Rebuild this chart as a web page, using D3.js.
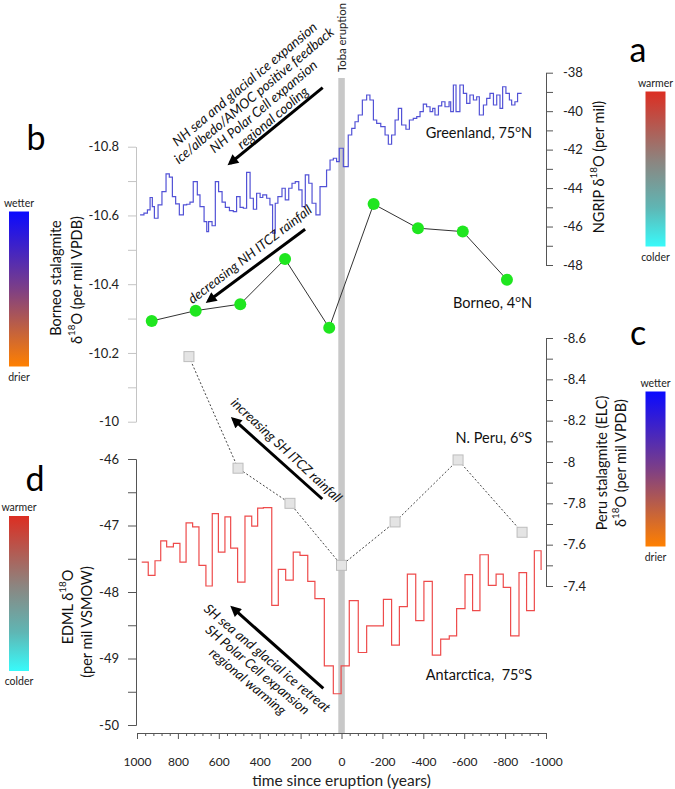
<!DOCTYPE html>
<html><head><meta charset="utf-8">
<script src="https://cdn.jsdelivr.net/npm/d3@7"></script>
<style>
body{margin:0;background:#fff;}
svg{display:block;font-family:Lato,"Open Sans",sans-serif;}
</style></head><body>
<svg id="c" width="675" height="789"></svg>
<script>
// ---------- tick labels ----------
const xTicks = [1000,800,600,400,200,0,-200,-400,-600,-800,-1000];
const borneoTicks = [-10.8,-10.6,-10.4,-10.2,-10];
const ngripTicks = [-38,-40,-42,-44,-46,-48];
const peruTicks = [-8.6,-8.4,-8.2,-8,-7.8,-7.6,-7.4];
const edmlTicks = [-46,-47,-48,-49,-50];

// ---------- Greenland NGRIP d18O (step series: start year, value) ----------
const greenlandYears = [985,966,949,936,925,915,897,878,858,842,827,811,793,773,757,741,725,705,692,672,659,650,633,617,601,584,568,548,529,513,496,480,464,447,431,415,398,385,366,350,337,324,311,291,275,258,242,226,209,193,177,160,144,125,105,73,56,40,24,11,-9,-33,-50,-66,-82,-102,-123,-139,-156,-172,-192,-213,-229,-245,-262,-278,-294,-315,-332,-351,-368,-384,-400,-416,-433,-446,-457,-474,-490,-506,-526,-534,-547,-560,-579,-596,-612,-628,-645,-661,-674,-694,-710,-726,-743,-759,-775,-788,-804,-821,-832,-848,-861,-881];
const greenlandValues = [-45.39,-45.30,-45.13,-44.49,-44.96,-45.57,-44.87,-44.18,-43.26,-43.43,-44.44,-44.82,-45.39,-44.87,-44.84,-44.73,-43.66,-44.35,-44.96,-45.74,-46.26,-45.74,-45.96,-43.66,-44.18,-44.73,-45.00,-45.17,-45.22,-44.44,-45.00,-45.05,-43.18,-44.53,-45.10,-44.27,-44.49,-44.35,-44.53,-44.87,-46.34,-44.79,-44.44,-44.01,-44.61,-44.01,-43.75,-43.66,-44.09,-44.96,-43.31,-43.75,-44.79,-45.39,-43.92,-43.06,-42.54,-42.45,-42.62,-41.93,-42.88,-41.24,-40.89,-40.55,-40.20,-39.42,-39.16,-39.42,-40.46,-40.63,-40.80,-41.24,-41.72,-41.24,-40.46,-39.85,-40.72,-40.94,-40.46,-40.37,-40.28,-40.02,-39.63,-39.77,-40.02,-39.85,-40.20,-39.73,-39.51,-39.77,-39.51,-40.02,-38.64,-40.02,-38.64,-39.07,-39.59,-39.16,-39.42,-39.25,-40.20,-39.68,-39.33,-39.07,-39.68,-39.16,-39.85,-38.73,-39.07,-39.42,-39.68,-39.51,-39.07,-39.07];

// ---------- Borneo stalagmite d18O ----------
const borneoYears = [928,713,495,276,60,-157,-374,-593,-809];
const borneoValues = [-10.293,-10.323,-10.342,-10.473,-10.273,-10.633,-10.563,-10.553,-10.413];

// ---------- Peru stalagmite (ELC) d18O ----------
const peruYears = [746,506,252,0,-262,-570,-883];
const peruValues = [-8.51,-7.97,-7.80,-7.50,-7.71,-8.01,-7.66];

// ---------- Antarctica EDML d18O (step series) ----------
const antarcticaYears = [977,945,912,884,855,822,790,760,728,697,663,632,602,570,542,508,472,439,410,382,341,309,273,236,203,165,130,84,40,2,-38,-82,-123,-205,-245,-283,-322,-363,-403,-444,-485,-527,-563,-604,-641,-677,-718,-756,-791,-827,-868,-905,-943,-976];
const antarcticaValues = [-47.55,-47.75,-47.53,-47.23,-47.32,-47.27,-47.55,-46.96,-47.02,-47.60,-47.91,-46.82,-47.40,-46.87,-47.34,-47.85,-46.86,-47.01,-46.74,-46.73,-48.20,-47.66,-47.82,-47.40,-47.45,-47.84,-48.10,-49.11,-49.53,-49.11,-48.13,-48.91,-48.51,-48.11,-48.80,-48.22,-47.73,-48.43,-47.84,-48.95,-48.71,-48.66,-48.25,-47.74,-48.28,-47.44,-47.90,-47.73,-47.93,-48.66,-47.71,-48.28,-47.38,-47.67];

// ---------- chart ----------
const svg = d3.select('#c');
const FONT = 'Lato, "Open Sans", sans-serif';

const x = d3.scaleLinear().domain([1000,-1000]).range([137,546]);
const yB = d3.scaleLinear().domain([-10.8,-10]).range([146.7,421.7]);
const yN = d3.scaleLinear().domain([-38,-48]).range([72.7,265]);
const yP = d3.scaleLinear().domain([-8.6,-7.4]).range([338,586]);
const yE = d3.scaleLinear().domain([-46,-50]).range([459,725]);

const defs = svg.append('defs');
function grad(id, stops){
  const g = defs.append('linearGradient').attr('id',id).attr('x1',0).attr('y1',0).attr('x2',0).attr('y2',1);
  stops.forEach(s=>g.append('stop').attr('offset',s[0]).attr('stop-color',s[1]));
}
grad('gTemp',[[0,'#dc2e22'],[0.45,'#8c8580'],[0.75,'#5fb6b4'],[1,'#38fafa']]);
grad('gWet',[[0,'#0a0aff'],[0.5,'#7d3f86'],[1,'#ff8000']]);
defs.append('marker').attr('id','ah').attr('viewBox','0 0 10 10')
  .attr('refX',7).attr('refY',5).attr('markerWidth',4.2).attr('markerHeight',3.6)
  .attr('orient','auto').append('path').attr('d','M0,0L10,5L0,10z').attr('fill','#000');

// Toba bar
svg.append('rect').attr('x',x(0)-3.2).attr('y',78).attr('width',6.5).attr('height',733-78).attr('fill','#c8c8c8');
svg.append('text').attr('transform',`translate(${x(0)+4.5},72) rotate(-90)`)
  .attr('font-size',12).attr('textLength',69).attr('lengthAdjust','spacingAndGlyphs')
  .attr('fill','#222').text('Toba eruption');

function styleAxis(g, color, fs){
  g.attr('font-family',FONT).attr('font-size',fs);
  g.selectAll('.domain').attr('stroke',color).attr('stroke-width',1);
  g.selectAll('.tick line').attr('stroke',color).attr('stroke-width',1);
  g.selectAll('.tick text').attr('fill','#222');
}
const fmt = d=>String(d);
function minorOf(ticks){ const r=[]; for(let i=0;i<ticks.length-1;i++) r.push((ticks[i]+ticks[i+1])/2); return r; }

function yAxis(gen, scale, ticks, xpos, color, size, pad){
  let g = svg.append('g').attr('transform',`translate(${xpos},0)`)
    .call(gen(scale).tickValues(ticks).tickFormat(fmt).tickSize(size).tickSizeOuter(0).tickPadding(pad));
  styleAxis(g,color,13);
  g = svg.append('g').attr('transform',`translate(${xpos},0)`)
    .call(gen(scale).tickValues(minorOf(ticks)).tickFormat('').tickSize(size).tickSizeOuter(0));
  styleAxis(g,color,13);
}
yAxis(d3.axisLeft, yB, borneoTicks, 136, '#c4c4c4', 8, 9);
yAxis(d3.axisLeft, yE, edmlTicks, 136, '#555', 8, 9);
yAxis(d3.axisRight, yN, ngripTicks, 546, '#555', 7, 10);
yAxis(d3.axisRight, yP, peruTicks, 546, '#555', 7, 10);

// X axis
let gx = svg.append('g').attr('transform','translate(0,733)')
  .call(d3.axisBottom(x).tickValues(xTicks).tickFormat(fmt).tickSize(6).tickSizeOuter(0).tickPadding(18));
styleAxis(gx,'#555',12);
const xMinor = d3.range(1000,-1001,-40).filter(v=>v%200!==0);
gx = svg.append('g').attr('transform','translate(0,733)')
  .call(d3.axisBottom(x).tickValues(xMinor).tickFormat('').tickSize(3).tickSizeOuter(0));
styleAxis(gx,'#555',12);
svg.append('text').attr('x',x(0)).attr('y',786).attr('text-anchor','middle')
  .attr('font-size',15.5).attr('fill','#222').text('time since eruption (years)');

// Greenland step line
const gr = greenlandYears.map((d,i)=>[d,greenlandValues[i]]);
svg.append('path').datum(gr).attr('fill','none').attr('stroke','#5252d6').attr('stroke-width',1.2)
  .attr('d',d3.line().x(d=>x(d[0])).y(d=>yN(d[1])).curve(d3.curveStepAfter));

// Antarctica step line
const an = antarcticaYears.map((d,i)=>[d,antarcticaValues[i]]);
svg.append('path').datum(an).attr('fill','none').attr('stroke','#ee4b4b').attr('stroke-width',1.2)
  .attr('d',d3.line().x(d=>x(d[0])).y(d=>yE(d[1])).curve(d3.curveStepAfter));

// Peru dotted line + squares
const pe = peruYears.map((d,i)=>[d,peruValues[i]]);
svg.append('path').datum(pe).attr('fill','none').attr('stroke','#444').attr('stroke-width',1)
  .attr('stroke-dasharray','2,2').attr('d',d3.line().x(d=>x(d[0])).y(d=>yP(d[1])));
svg.selectAll('.sq').data(pe).enter().append('rect').attr('class','sq')
  .attr('x',d=>x(d[0])-5).attr('y',d=>yP(d[1])-5).attr('width',10).attr('height',10)
  .attr('fill','#e4e4e4').attr('stroke','#bdbdbd').attr('stroke-width',1);

// Borneo line + circles
const bo = borneoYears.map((d,i)=>[d,borneoValues[i]]);
svg.append('path').datum(bo).attr('fill','none').attr('stroke','#333').attr('stroke-width',1)
  .attr('d',d3.line().x(d=>x(d[0])).y(d=>yB(d[1])));
svg.selectAll('.ci').data(bo).enter().append('circle').attr('class','ci')
  .attr('cx',d=>x(d[0])).attr('cy',d=>yB(d[1])).attr('r',6).attr('fill','#1fe61f');

// Series labels
function label(xp, yp, main, sup, tail){
  const t = svg.append('text').attr('x',xp).attr('y',yp).attr('text-anchor','end')
    .attr('font-size',14.5).attr('fill','#111');
  t.append('tspan').text(main);
  t.append('tspan').attr('dy',-6).attr('font-size',10).text(sup);
  t.append('tspan').attr('dy',6).text(tail);
}
label(532,138,'Greenland, 75','o','N');
label(532,308,'Borneo, 4','o','N');
label(532,443,'N. Peru, 6','o','S');
label(532,680,'Antarctica,\u00a0 75','o','S');

// Arrows (data coordinates)
function arrow(x1,y1,x2,y2){
  svg.append('line').attr('x1',x1).attr('y1',y1).attr('x2',x2).attr('y2',y2)
    .attr('stroke','#000').attr('stroke-width',3).attr('marker-end','url(#ah)');
}
arrow(x(92),yN(-38.78),x(545),yN(-42.71));
arrow(x(178),yB(-10.560),x(651),yB(-10.351));
arrow(x(94),yP(-7.821),x(529),yP(-8.207));
arrow(x(89),yE(-49.45),x(532),yE(-48.24));

// Annotation text blocks: anchor = centre of line `ref`; off = extra shift across the lines
function block(cx, cy, ang, lines, sp, fs, ref, off){
  const gg = svg.append('g').attr('transform',`translate(${cx},${cy}) rotate(${ang})`);
  lines.forEach((l,i)=>gg.append('text').attr('x',0).attr('y',(i-ref)*sp+(off||0)).attr('text-anchor','middle')
    .attr('dominant-baseline','central').attr('font-style','italic').attr('font-size',fs)
    .attr('fill','#111').text(l));
}
block(x(337), yN(-40.33), -40,
  ['NH sea and glacial ice expansion','ice/albedo/AMOC positive feedback','NH Polar Cell expansion','regional cooling'], 14.6, 13.6, 3, 0);
block(x(440), yB(-10.481), -37.6, ['decreasing NH ITCZ rainfall'], 14, 13.4, 0, -3);
block(x(268), yP(-8.058), 43, ['increasing SH ITCZ rainfall'], 14, 13.4, 0, 0);
block(x(362), yE(-48.99), 40, ['SH sea and glacial ice retreat','SH Polar Cell expansion','regional warming'], 15.2, 13.4, 0, 0);

// Axis titles
function vtitle(cx, cy, parts, fs){
  const t = svg.append('text').attr('transform',`translate(${cx},${cy}) rotate(-90)`)
    .attr('text-anchor','middle').attr('dominant-baseline','central').attr('font-size',fs).attr('fill','#111');
  parts.forEach(p=>{
    const s = t.append('tspan').text(p[0]);
    if(p[1]==='sup') s.attr('font-size',fs*0.68).attr('dy',-5);
    if(p[1]==='base') s.attr('dy',5);
  });
}
vtitle(55,278,[['Borneo stalagmite']],14.5);
vtitle(76,280,[['\u03b4'],['18','sup'],['O (per mil VPDB)','base']],14.5);
vtitle(598,167,[['NGRIP \u03b4'],['18','sup'],['O (per mil)','base']],14.5);
vtitle(601,463,[['Peru stalagmite (ELC)']],14.5);
vtitle(620,463,[['\u03b4'],['18','sup'],['O (per mil VPDB)','base']],14.5);
vtitle(67,607,[['EDML \u03b4'],['18','sup'],['O','base']],14.5);
vtitle(86,622,[['(per mil VSMOW)']],14.5);

// Colour bars
function cbar(x0,y0,h,gid,top,bot){
  svg.append('rect').attr('x',x0).attr('y',y0).attr('width',20).attr('height',h).attr('fill',`url(#${gid})`);
  svg.append('text').attr('x',x0+10).attr('y',y0-5).attr('text-anchor','middle').attr('font-size',10.5).attr('fill','#222').text(top);
  svg.append('text').attr('x',x0+10).attr('y',y0+h+14).attr('text-anchor','middle').attr('font-size',10.5).attr('fill','#222').text(bot);
}
cbar(645.5,91.5,155,'gTemp','warmer','colder');
cbar(9,211.5,155,'gWet','wetter','drier');
cbar(645.5,391.5,155,'gWet','wetter','drier');
cbar(9,516,155,'gTemp','warmer','colder');

// Panel letters
function letter(xp,yp,t){ svg.append('text').attr('x',xp).attr('y',yp).attr('text-anchor','middle').attr('font-size',34).attr('fill','#000').text(t); }
letter(638,62,'a');
letter(36,150,'b');
letter(638,345,'c');
letter(35,491,'d');
</script>
</body></html>
